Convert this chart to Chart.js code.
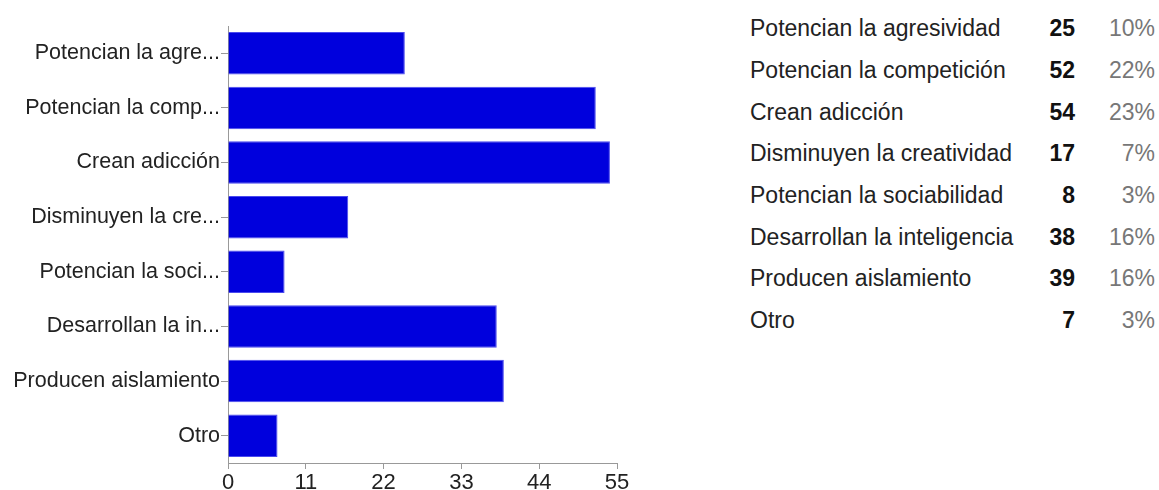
<!DOCTYPE html>
<html lang="es">
<head>
  <meta charset="UTF-8">
  <title>Respuestas</title>
  <script src="https://cdn.jsdelivr.net/npm/chart.js@4.4.1/dist/chart.umd.min.js"></script>
  <style>
    body { margin: 0; background: #fff; font-family: "Liberation Sans", Arial, sans-serif; }
    #wrap { position: absolute; left: 0; top: 0; width: 640px; height: 490px; }
    #resumen { position: absolute; left: 750px; top: 8px; border-collapse: collapse; table-layout: fixed; width: 405px; font-size: 23px; color: #222; }
    #resumen td { height: 41.7px; padding: 0; white-space: nowrap; }
    #resumen td.n { font-weight: bold; text-align: right; color: #111; }
    #resumen td.p { text-align: right; color: #777; }
  </style>
</head>
<body>
  <div id="wrap"><canvas id="chart"></canvas></div>
  <table id="resumen">
    <colgroup><col style="width:265px"><col style="width:60px"><col style="width:80px"></colgroup>
    <tbody id="filas"></tbody>
  </table>
  <script>
    // respuestas, en el orden de la encuesta
    const respuestas = [
      'Potencian la agresividad',
      'Potencian la competición',
      'Crean adicción',
      'Disminuyen la creatividad',
      'Potencian la sociabilidad',
      'Desarrollan la inteligencia',
      'Producen aislamiento',
      'Otro'
    ];
    // etiquetas recortadas tal como salen en el eje
    const etiquetasEje = [
      'Potencian la agre...',
      'Potencian la comp...',
      'Crean adicción',
      'Disminuyen la cre...',
      'Potencian la soci...',
      'Desarrollan la in...',
      'Producen aislamiento',
      'Otro'
    ];
    const votos = [25, 52, 54, 17, 8, 38, 39, 7];
    const porcentajes = [10, 22, 23, 7, 3, 16, 16, 3];
    const ticksX = [0, 11, 22, 33, 44, 55];

    // tabla de la derecha
    const filas = document.getElementById('filas');
    respuestas.forEach((r, i) => {
      const tr = document.createElement('tr');
      tr.innerHTML = '<td>' + r + '</td><td class="n">' + votos[i] + '</td><td class="p">' + porcentajes[i] + '%</td>';
      filas.appendChild(tr);
    });

    const familia = '"Liberation Sans", Arial, sans-serif';

    new Chart(document.getElementById('chart'), {
      type: 'bar',
      data: {
        labels: etiquetasEje,
        datasets: [{
          data: votos,
          backgroundColor: '#0000dd',
          borderColor: '#4a4aee',
          borderWidth: 1,
          barPercentage: 0.78,
          categoryPercentage: 1
        }]
      },
      options: {
        indexAxis: 'y',
        responsive: true,
        maintainAspectRatio: false,
        animation: false,
        layout: { padding: { top: 26, right: 23, left: 0, bottom: 0 } },
        plugins: { legend: { display: false }, tooltip: { enabled: false } },
        scales: {
          x: {
            min: 0,
            max: ticksX[ticksX.length - 1],
            afterBuildTicks: s => { s.ticks = ticksX.map(v => ({ value: v })); },
            grid: { drawOnChartArea: false, drawTicks: true, tickLength: 6, color: '#999' },
            border: { color: '#999' },
            ticks: { color: '#222', font: { family: familia, size: 22 }, padding: 1, maxRotation: 0 },
            afterFit: s => { s.height = 27; }
          },
          y: {
            grid: { drawOnChartArea: false, drawTicks: true, tickLength: 7, offset: false, color: '#999' },
            border: { color: '#999' },
            ticks: { color: '#222', font: { family: familia, size: 21.5 }, padding: 1, autoSkip: false },
            afterFit: s => { s.width = 228; }
          }
        }
      }
    });
  </script>
</body>
</html>
